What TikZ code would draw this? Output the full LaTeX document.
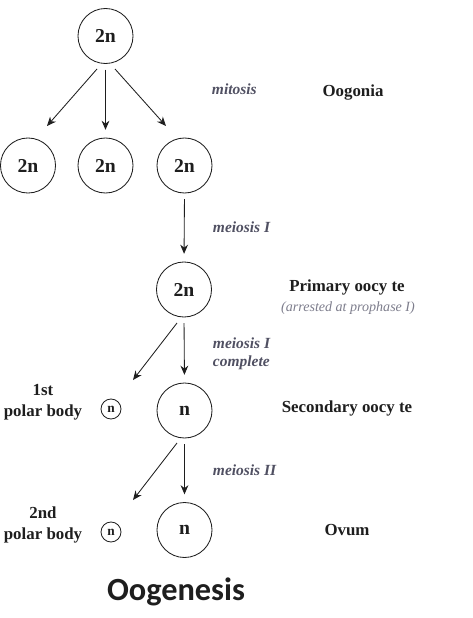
\documentclass[tikz,border=0pt]{standalone}
\usepackage{fontspec}
\setmainfont{Liberation Serif}
\newfontfamily\titlefont{Carlito}
\usepackage{xcolor}
\usetikzlibrary{arrows.meta,calc}
\definecolor{inkgray}{RGB}{30,30,30}
\definecolor{procgray}{RGB}{80,80,98}
\definecolor{notegray}{RGB}{125,125,140}
\tikzset{
  cell/.style={draw=inkgray, semithick, circle, minimum size=1.375cm, inner sep=0pt, font=\bfseries\fontsize{14}{15}\selectfont, text=inkgray},
  polar/.style={draw=inkgray, semithick, circle, minimum size=0.5cm, inner sep=0pt, font=\bfseries\fontsize{9.5}{11}\selectfont, text=inkgray},
  arr/.style={-{Stealth[length=6.5pt, width=5.5pt]}, semithick, draw=inkgray, shorten <=4pt, shorten >=5.5pt},
  proc/.style={anchor=west, font=\bfseries\itshape\fontsize{11}{13}\selectfont, text=procgray, align=left},
  stage/.style={font=\bfseries\fontsize{12}{15}\selectfont, text=inkgray, align=center},
  note/.style={font=\itshape\fontsize{10}{12}\selectfont, text=notegray}}
\begin{document}
\begin{tikzpicture}[x=0.025cm, y=-0.025cm]
  \useasboundingbox (0,0) rectangle (473,618);
  % cells
  \node[cell] (og) at (105.5,36) {2n};
  \node[cell] (og1) at (28,165.5) {2n};
  \node[cell] (og2) at (105.5,165.5) {2n};
  \node[cell] (og3) at (184.5,165.5) {2n};
  \node[cell] (primary) at (184,289.5) {2n};
  \node[cell] (secondary) at (184.5,410.5) {n};
  \node[cell] (ovum) at (184.5,530) {n};
  \node[polar] (pb1) at (111,409) {n};
  \node[polar] (pb2) at (111,532) {n};
  % arrows
  \draw[arr, shorten <=0pt, shorten >=0pt] ($(og.center)+(-8.5,33)$) -- ($(og1.center)+(19,-39.5)$);
  \draw[arr] (og.south) -- (og2.north);
  \draw[arr, shorten <=0pt, shorten >=0pt] ($(og.center)+(9.5,33)$) -- ($(og3.center)+(-18.5,-39.5)$);
  \draw[arr] (og3.south) -- (primary.north);
  \draw[arr, shorten <=0pt, shorten >=0pt] ($(primary.center)+(-7,33.5)$) -- ($(pb1.center)+(22,-29)$);
  \draw[arr] (primary.south) -- (secondary.north);
  \draw[arr, shorten <=0pt, shorten >=0pt] ($(secondary.center)+(-7.5,32.5)$) -- ($(pb2.center)+(22,-32)$);
  \draw[arr] (secondary.south) -- (ovum.north);
  % process labels
  \node[proc] (mitosis) at (207,89) {mitosis};
  \node[proc] (meiosisA) at (208,227) {meiosis I};
  \node[proc] (meiosisB) at (208,354) {meiosis I\\complete};
  \node[proc] (meiosisC) at (208,470) {meiosis II};
  % stage labels
  \node[stage] (oogonia) at (353,93) {Oogonia};
  \node[stage] (primlabel) at (347,287) {Primary oocy te};
  \node[note] (arrested) at (348,308) {(arrested at prophase I)};
  \node[stage] (seclabel) at (347,408) {Secondary oocy te};
  \node[stage] (ovumlabel) at (347,530) {Ovum};
  \node[stage] (pb1label) at (43,402) {1st\\polar body};
  \node[stage] (pb2label) at (43,525) {2nd\\polar body};
  % title
  \node[font=\titlefont\bfseries\fontsize{23}{26}\selectfont, text=inkgray] (title) at (176,592) {Oogenesis};
\end{tikzpicture}
\end{document}
